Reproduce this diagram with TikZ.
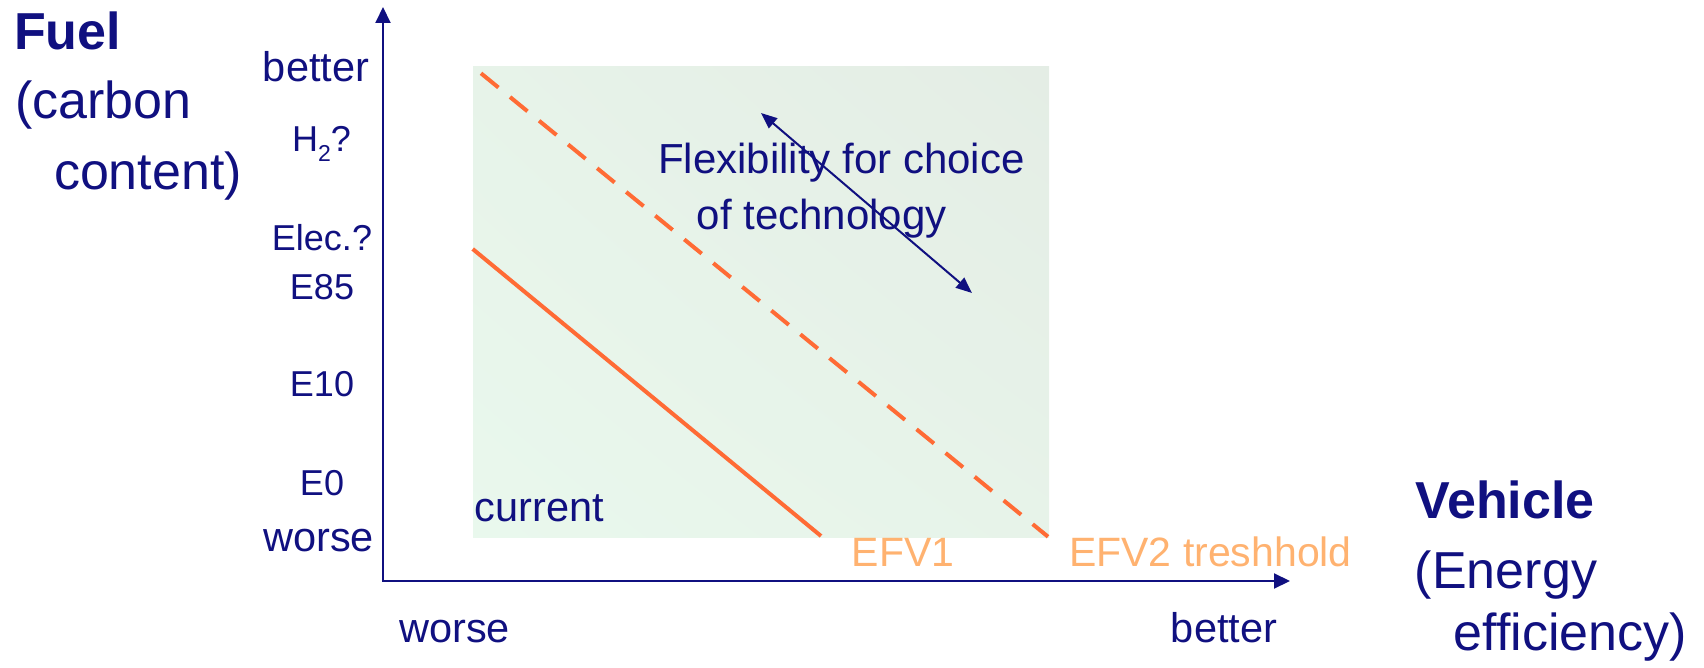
\documentclass[tikz,border=0pt]{standalone}
\usepackage{fontspec}
\setmainfont{Liberation Sans}
\usetikzlibrary{arrows.meta,shadings}
\definecolor{navy}{RGB}{16,16,128}
\definecolor{orln}{RGB}{255,107,53}
\definecolor{orlt}{RGB}{255,178,112}
\definecolor{gll}{RGB}{233,248,237}
\definecolor{gur}{RGB}{228,237,229}
\definecolor{gmid}{RGB}{231,243,233}
\begin{document}
\begin{tikzpicture}[x=1pt,y=-1pt,
  lbl/.style={anchor=base,inner sep=0pt,text=navy},
  bigtxt/.style={lbl,font=\fontsize{52}{60}\selectfont},
  bigbold/.style={lbl,font=\fontsize{52}{60}\selectfont\bfseries},
  midtxt/.style={lbl,font=\fontsize{41.5}{48}\selectfont},
  smalltxt/.style={lbl,font=\fontsize{36}{42}\selectfont},
  efvtxt/.style={anchor=base,inner sep=0pt,text=orlt,font=\fontsize{41}{48}\selectfont},
  axisline/.style={draw=navy,line width=2pt,{Triangle[length=16pt,width=15pt]}-{Triangle[length=16pt,width=15pt]}},
  orline/.style={draw=orln,line width=4pt},
  flexarrow/.style={draw=navy,line width=2pt,{Triangle[length=16pt,width=13pt]}-{Triangle[length=16pt,width=13pt]}}
]
\useasboundingbox (0,0) rectangle (1704,668);
% shaded region
\shade[lower left=gll,upper right=gur,upper left=gmid,lower right=gmid] (473,67) rectangle (1049,537);
% axes
\coordinate (ytip) at (383,7);
\coordinate (O) at (383,581);
\coordinate (xtip) at (1290,581);
\draw[axisline] (ytip) -- (O) -- (xtip);
% orange lines
\coordinate (s1) at (472.7,249);
\coordinate (s2) at (821,536);
\coordinate (d1) at (481,73.3);
\coordinate (d2) at (1048,536.7);
\draw[orline] (s1) -- (s2);
\draw[orline,dash pattern=on 22.5pt off 15pt] (d1) -- (d2);
% axis titles
\node[bigbold] (fuel) at (67.5,50) {Fuel};
\node[bigtxt] (carbon) at (103.5,118.3) {(carbon};
\node[bigtxt] (content) at (148,190) {content)};
\node[bigbold] (vehicle) at (1505,518.3) {Vehicle};
\node[bigtxt] (energy) at (1506,588) {(Energy};
\node[bigtxt] (effic) at (1570.5,650) {efficiency)};
% y labels
\node[midtxt] (ybetter) at (316,82) {better};
\node[smalltxt] (h2) at (321.5,151.7) {H\raisebox{-10pt}{\fontsize{23}{23}\selectfont 2}?};
\node[smalltxt] (elec) at (322,250.7) {Elec.?};
\node[smalltxt] (e85) at (322,299) {E85};
\node[smalltxt] (e10) at (322,396.7) {E10};
\node[smalltxt] (e0) at (322,495.7) {E0};
\node[midtxt] (yworse) at (318.5,551) {worse};
% x labels
\node[midtxt] (xworse) at (454.5,642) {worse};
\node[midtxt] (xbetter) at (1224,642) {better};
% inner labels
\node[midtxt] (current) at (539.5,521.7) {current};
\node[efvtxt] (efv1) at (903,566.7) {EFV1};
\node[efvtxt] (efv2) at (1210.5,566.7) {EFV2 treshhold};
\node[lbl,font=\fontsize{42}{48}\selectfont] (flex1) at (841.4,174) {Flexibility for choice};
\node[lbl,font=\fontsize{42}{48}\selectfont] (flex2) at (821.7,230) {of technology};
% flexibility arrow
\coordinate (fa) at (761,113);
\coordinate (fb) at (972,293);
\draw[flexarrow] (fa) -- (fb);
\end{tikzpicture}
\end{document}
